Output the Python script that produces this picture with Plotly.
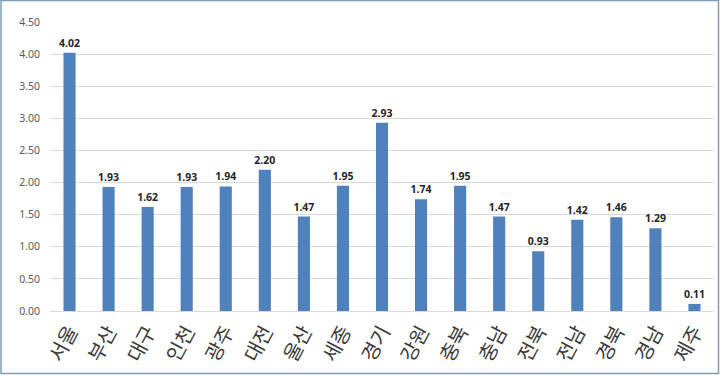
import plotly.graph_objects as go

regions = ["서울", "부산", "대구", "인천", "광주", "대전", "울산", "세종", "경기",
           "강원", "충북", "충남", "전북", "전남", "경북", "경남", "제주"]
values = [4.02, 1.93, 1.62, 1.93, 1.94, 2.20, 1.47, 1.95, 2.93,
          1.74, 1.95, 1.47, 0.93, 1.42, 1.46, 1.29, 0.11]
y_ticks = [0, 0.5, 1.0, 1.5, 2.0, 2.5, 3.0, 3.5, 4.0, 4.5]

W, H = 720, 375
ML, MR, MT, MB = 50, 6, 22, 64
PW, PH = W - ML - MR, H - MT - MB

fig = go.Figure(go.Bar(
    x=regions, y=values,
    marker=dict(color="#4F81BD", line=dict(width=0)),
    texttemplate="%{y:.2f}", textposition="outside", cliponaxis=False,
    constraintext="none",
    textfont=dict(family="Noto Sans", size=10.5, color="#262626", weight="bold"),
))

fig.update_layout(
    width=W, height=H,
    margin=dict(l=ML, r=MR, t=MT, b=MB, autoexpand=False),
    paper_bgcolor="white", plot_bgcolor="white",
    bargap=0.69, showlegend=False,
    font=dict(family="Noto Sans CJK KR"),
    xaxis=dict(tickangle=-62, tickfont=dict(family="Noto Sans CJK KR", size=20, color="#3A3A3A"),
               showline=True, linecolor="#D9D9D9", linewidth=1, ticks="", showgrid=False,
               automargin=False),
    yaxis=dict(range=[0, 4.5], tickvals=y_ticks, tickformat=".2f",
               tickfont=dict(family="Noto Sans", size=10.5, color="#595959"),
               gridcolor="#D9D9D9", gridwidth=1, zeroline=False, showline=False,
               ticks="", ticklabelstandoff=9, automargin=False),
    shapes=[dict(type="rect", xref="paper", yref="paper",
                 x0=(1 - ML) / PW, x1=(W - 1.5 - ML) / PW,
                 y0=-(H - 1.5 - MT - PH) / PH, y1=(MT + PH - 0.5) / PH,
                 line=dict(color="#7F9DB9", width=1.5), fillcolor="rgba(0,0,0,0)")],
)

fig.write_html("out.html", config={"displayModeBar": False},
               post_script="document.body.style.margin='0';document.body.style.overflow='hidden';")
